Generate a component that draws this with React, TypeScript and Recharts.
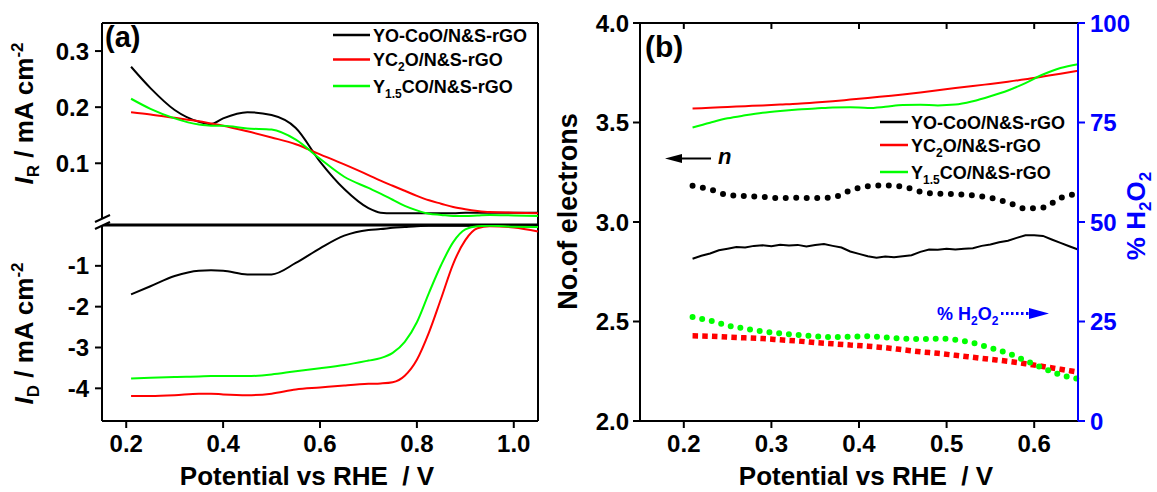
import { Line, LineChart, ReferenceLine, XAxis, YAxis } from "recharts";

// panel (a): ring / disk currents vs potential
const potentialA = [0.21, 0.25, 0.3, 0.35, 0.375, 0.4, 0.45, 0.5, 0.55, 0.6, 0.65, 0.7, 0.725, 0.75, 0.775, 0.8, 0.825, 0.85, 0.875, 0.9, 0.925, 0.95, 1.0, 1.05];
const irYOCoO = [0.272, 0.234, 0.195, 0.174, 0.17, 0.18, 0.191, 0.186, 0.163, 0.103, 0.054, 0.02, 0.012, 0.011, 0.011, 0.011, 0.011, 0.011, 0.011, 0.012, 0.012, 0.012, 0.012, 0.012];
const irYC2O = [0.191, 0.187, 0.181, 0.175, 0.171, 0.167, 0.157, 0.146, 0.134, 0.116, 0.098, 0.079, 0.069, 0.06, 0.051, 0.042, 0.034, 0.028, 0.022, 0.018, 0.015, 0.013, 0.012, 0.011];
const irY15CO = [0.215, 0.197, 0.18, 0.169, 0.167, 0.167, 0.162, 0.16, 0.142, 0.108, 0.076, 0.056, 0.046, 0.035, 0.024, 0.016, 0.01, 0.008, 0.006, 0.006, 0.007, 0.008, 0.007, 0.006];
const idYOCoO = [-1.7, -1.5, -1.25, -1.12, -1.11, -1.12, -1.21, -1.21, -0.93, -0.57, -0.26, -0.12, -0.1, -0.07, -0.05, -0.03, -0.02, -0.02, -0.02, -0.02, -0.02, -0.02, -0.03, -0.04];
const idYC2O = [-4.19, -4.19, -4.17, -4.13, -4.13, -4.15, -4.17, -4.13, -4.03, -3.98, -3.93, -3.89, -3.88, -3.85, -3.69, -3.3, -2.63, -1.8, -0.95, -0.37, -0.08, -0.03, -0.06, -0.16];
const idY15CO = [-3.76, -3.74, -3.72, -3.71, -3.7, -3.7, -3.7, -3.66, -3.58, -3.51, -3.43, -3.32, -3.26, -3.13, -2.86, -2.38, -1.66, -0.98, -0.42, -0.11, -0.03, -0.02, -0.04, -0.05];

// panel (b): electron number (left) and % H2O2 (right)
const potentialB = [0.21, 0.23, 0.25, 0.27, 0.29, 0.31, 0.33, 0.35, 0.37, 0.39, 0.41, 0.43, 0.45, 0.47, 0.49, 0.51, 0.53, 0.55, 0.57, 0.59, 0.61, 0.63, 0.65];
const nYC2O = [3.57, 3.574, 3.578, 3.582, 3.586, 3.59, 3.594, 3.6, 3.607, 3.615, 3.623, 3.632, 3.641, 3.651, 3.662, 3.673, 3.683, 3.694, 3.705, 3.717, 3.731, 3.745, 3.76];
const nY15CO = [3.475, 3.499, 3.521, 3.536, 3.549, 3.558, 3.565, 3.57, 3.576, 3.577, 3.573, 3.579, 3.588, 3.589, 3.586, 3.59, 3.607, 3.632, 3.661, 3.698, 3.741, 3.774, 3.793];
const h2o2YOCoO = [59.1, 58.2, 56.8, 56.5, 56.3, 56.0, 56.1, 56.0, 56.2, 57.9, 59.0, 59.2, 58.9, 57.6, 57.1, 57.0, 56.7, 56.1, 54.9, 53.4, 53.6, 56.0, 57.1];
const h2o2YC2O = [21.4, 21.3, 21.1, 20.9, 20.7, 20.4, 20.1, 19.7, 19.4, 19.1, 18.8, 18.4, 17.9, 17.4, 17.0, 16.5, 16.0, 15.5, 15.0, 14.4, 13.7, 13.0, 12.3];
const h2o2Y15CO = [26.1, 25.2, 24.0, 23.2, 22.5, 22.0, 21.6, 21.3, 21.1, 21.2, 21.3, 21.0, 20.7, 20.6, 20.7, 20.4, 19.6, 18.4, 17.0, 15.2, 13.3, 11.6, 10.6];

// the black n trace is noisy, so it is read at a finer step
const potentialBFine = [0.21, 0.22, 0.23, 0.24, 0.25, 0.26, 0.27, 0.28, 0.29, 0.3, 0.31, 0.32, 0.33, 0.34, 0.35, 0.36, 0.37, 0.38, 0.39, 0.4, 0.41, 0.42, 0.43, 0.44, 0.45, 0.46, 0.47, 0.48, 0.49, 0.5, 0.51, 0.52, 0.53, 0.54, 0.55, 0.56, 0.57, 0.58, 0.59, 0.6, 0.61, 0.62, 0.63, 0.64, 0.65];
const nYOCoO = [2.815, 2.83, 2.842, 2.858, 2.866, 2.874, 2.872, 2.88, 2.883, 2.878, 2.886, 2.882, 2.885, 2.877, 2.884, 2.889, 2.88, 2.872, 2.852, 2.84, 2.828, 2.82, 2.826, 2.823, 2.828, 2.833, 2.85, 2.862, 2.86, 2.866, 2.862, 2.866, 2.868, 2.88, 2.887, 2.898, 2.906, 2.92, 2.933, 2.934, 2.93, 2.912, 2.895, 2.878, 2.862];

const ticksIR = [0.1, 0.2, 0.3];
const ticksID = [-4, -3, -2, -1];
const ticksVA = [0.2, 0.4, 0.6, 0.8, 1.0];
const ticksVB = [0.2, 0.3, 0.4, 0.5, 0.6];
const ticksN = [2, 2.5, 3, 3.5, 4];
const ticksPct = [0, 25, 50, 75, 100];

const BLACK = "#000000";
const RED = "#ff0000";
const GREEN = "#00ff00";
const BLUE = "#0000ff";

const rowsA = potentialA.map((v, i) => ({
	v,
	irBlack: irYOCoO[i],
	irRed: irYC2O[i],
	irGreen: irY15CO[i],
	idBlack: idYOCoO[i],
	idRed: idYC2O[i],
	idGreen: idY15CO[i],
}));

const rowsB = potentialB.map((v, i) => ({
	v,
	nRed: nYC2O[i],
	nGreen: nY15CO[i],
	pBlack: h2o2YOCoO[i],
	pRed: h2o2YC2O[i],
	pGreen: h2o2Y15CO[i],
}));

const rowsBFine = potentialBFine.map((v, i) => ({ v, nBlack: nYOCoO[i] }));

const axisLine = { stroke: BLACK, strokeWidth: 2 };
const tickStyle = { fill: BLACK, fontSize: 24, fontWeight: 700 };
const one = (v: number) => v.toFixed(1);

function LegendRow(props: {
	x1: number;
	x2: number;
	y: number;
	color: string;
	children: React.ReactNode;
}) {
	const { x1, x2, y, color, children } = props;
	return (
		<g>
			<line x1={x1} x2={x2} y1={y} y2={y} stroke={color} strokeWidth={2.5} />
			<text x={x2 + 3} y={y + 6.5} fontSize={18} fontWeight={700}>
				{children}
			</text>
		</g>
	);
}

function legendEntries(x1: number, x2: number, ys: number[]) {
	return (
		<g>
			<LegendRow x1={x1} x2={x2} y={ys[0]} color={BLACK}>
				{"YO-CoO/N&S-rGO"}
			</LegendRow>
			<LegendRow x1={x1} x2={x2} y={ys[1]} color={RED}>
				<tspan>YC</tspan>
				<tspan fontSize={12} dy={5}>2</tspan>
				<tspan dy={-5}>{"O/N&S-rGO"}</tspan>
			</LegendRow>
			<LegendRow x1={x1} x2={x2} y={ys[2]} color={GREEN}>
				<tspan>Y</tspan>
				<tspan fontSize={12} dy={5}>1.5</tspan>
				<tspan dy={-5}>{"CO/N&S-rGO"}</tspan>
			</LegendRow>
		</g>
	);
}

function Overlay() {
	return (
		<svg
			width={1157}
			height={492}
			style={{ position: "absolute", left: 0, top: 0, pointerEvents: "none" }}
		>
			{/* axis break on the left of panel (a) */}
			<polygon points="95,222 110,215 110,222 95,229" fill="#fff" />
			<line x1={95} y1={222} x2={110} y2={215} stroke={BLACK} strokeWidth={2} />
			<line x1={95} y1={229} x2={110} y2={222} stroke={BLACK} strokeWidth={2} />

			<text x={105} y={47} fontSize={29} fontWeight={700}>(a)</text>
			<text x={645} y={57} fontSize={30} fontWeight={700}>(b)</text>

			{legendEntries(333, 370, [35, 59.5, 86])}
			{legendEntries(880, 908, [122, 145, 172])}

			{/* y titles of (a) */}
			<text transform="translate(33,113.5) rotate(-90)" textAnchor="middle" fontSize={26} fontWeight={700}>
				<tspan fontStyle="italic">I</tspan>
				<tspan fontSize={17} dy={6}>R</tspan>
				<tspan dy={-6}> / mA cm</tspan>
				<tspan fontSize={17} dy={-10}>-2</tspan>
			</text>
			<text transform="translate(33,333.5) rotate(-90)" textAnchor="middle" fontSize={26} fontWeight={700}>
				<tspan fontStyle="italic">I</tspan>
				<tspan fontSize={17} dy={6}>D</tspan>
				<tspan dy={-6}> / mA cm</tspan>
				<tspan fontSize={17} dy={-10}>-2</tspan>
			</text>

			{/* y titles of (b) */}
			<text transform="translate(577,211.5) rotate(-90)" textAnchor="middle" fontSize={27} fontWeight={700}>
				No.of electrons
			</text>
			<text transform="translate(1145,216) rotate(-90)" textAnchor="middle" fontSize={26} fontWeight={700} fill={BLUE}>
				<tspan>% H</tspan>
				<tspan fontSize={17} dy={6}>2</tspan>
				<tspan dy={-6}>O</tspan>
				<tspan fontSize={17} dy={6}>2</tspan>
			</text>

			{/* x titles */}
			<text x={307} y={485} textAnchor="middle" fontSize={26} fontWeight={700}>
				{"Potential vs RHE\u00a0 / V"}
			</text>
			<text x={866} y={485} textAnchor="middle" fontSize={26} fontWeight={700}>
				{"Potential vs RHE\u00a0 / V"}
			</text>

			{/* n arrow */}
			<line x1={680} y1={158.5} x2={711} y2={158.5} stroke={BLACK} strokeWidth={2} />
			<polygon points="665,158.5 682,154 682,163" fill={BLACK} />
			<text x={718} y={164} fontSize={22} fontWeight={700} fontStyle="italic">n</text>

			{/* % H2O2 arrow */}
			<text x={937} y={319.5} fontSize={18} fontWeight={700} fill={BLUE}>
				<tspan>% H</tspan>
				<tspan fontSize={12} dy={5}>2</tspan>
				<tspan dy={-5}>O</tspan>
				<tspan fontSize={12} dy={5}>2</tspan>
			</text>
			<line x1={1001} y1={313.5} x2={1029} y2={313.5} stroke={BLUE} strokeWidth={3} strokeDasharray="2.5 2.5" />
			<polygon points="1029,308 1049,313.5 1029,319" fill={BLUE} />
		</svg>
	);
}

function PanelATop() {
	return (
		<div style={{ position: "absolute", left: 0, top: 0 }}>
			<LineChart width={560} height={225} data={rowsA} margin={{ top: 23, right: 22, bottom: 0, left: 0 }}>
				<XAxis type="number" dataKey="v" domain={[0.15, 1.05]} hide />
				<YAxis
					type="number"
					domain={[-0.01, 0.35]}
					ticks={ticksIR}
					interval={0}
					width={102}
					tickSize={7}
					tickMargin={6}
					tickFormatter={one}
					tick={tickStyle}
					axisLine={axisLine}
					tickLine={axisLine}
					allowDataOverflow
				/>
				<ReferenceLine y={0.35} stroke={BLACK} strokeWidth={2} />
				<ReferenceLine x={1.05} stroke={BLACK} strokeWidth={2} />
				<Line dataKey="irBlack" type="monotone" stroke={BLACK} strokeWidth={2} dot={false} isAnimationActive={false} />
				<Line dataKey="irRed" type="monotone" stroke={RED} strokeWidth={2} dot={false} isAnimationActive={false} />
				<Line dataKey="irGreen" type="monotone" stroke={GREEN} strokeWidth={2} dot={false} isAnimationActive={false} />
			</LineChart>
		</div>
	);
}

function PanelABottom() {
	return (
		<div style={{ position: "absolute", left: 0, top: 200 }}>
			<LineChart width={560} height={292} data={rowsA} margin={{ top: 25, right: 22, bottom: 0, left: 0 }}>
				<XAxis
					type="number"
					dataKey="v"
					domain={[0.15, 1.05]}
					ticks={ticksVA}
					interval={0}
					height={71}
					tickSize={7}
					tickMargin={7}
					tickFormatter={one}
					tick={tickStyle}
					axisLine={axisLine}
					tickLine={axisLine}
				/>
				<YAxis
					type="number"
					domain={[-4.8, 0]}
					ticks={ticksID}
					interval={0}
					width={102}
					tickSize={7}
					tickMargin={6}
					tick={tickStyle}
					axisLine={axisLine}
					tickLine={axisLine}
					allowDataOverflow
				/>
				<ReferenceLine y={0} stroke={BLACK} strokeWidth={3} />
				<ReferenceLine x={1.05} stroke={BLACK} strokeWidth={2} />
				<Line dataKey="idBlack" type="monotone" stroke={BLACK} strokeWidth={2} dot={false} isAnimationActive={false} />
				<Line dataKey="idRed" type="monotone" stroke={RED} strokeWidth={2} dot={false} isAnimationActive={false} />
				<Line dataKey="idGreen" type="monotone" stroke={GREEN} strokeWidth={2} dot={false} isAnimationActive={false} />
			</LineChart>
		</div>
	);
}

function PanelB() {
	return (
		<div style={{ position: "absolute", left: 560, top: 0 }}>
			<LineChart width={597} height={492} data={rowsB} margin={{ top: 23, right: 0, bottom: 0, left: 0 }}>
				<XAxis
					xAxisId="x"
					type="number"
					dataKey="v"
					domain={[0.15, 0.65]}
					ticks={ticksVB}
					interval={0}
					height={71}
					tickSize={7}
					tickMargin={7}
					tickFormatter={one}
					tick={tickStyle}
					axisLine={axisLine}
					tickLine={axisLine}
					allowDuplicatedCategory={false}
				/>
				<YAxis
					yAxisId="n"
					type="number"
					domain={[2, 4]}
					ticks={ticksN}
					interval={0}
					width={80}
					tickSize={7}
					tickMargin={4}
					tickFormatter={one}
					tick={tickStyle}
					axisLine={axisLine}
					tickLine={axisLine}
				/>
				<YAxis
					yAxisId="pct"
					orientation="right"
					type="number"
					domain={[0, 100]}
					ticks={ticksPct}
					interval={0}
					width={79}
					tickSize={7}
					tickMargin={5}
					tick={{ ...tickStyle, fill: BLUE }}
					axisLine={{ stroke: BLUE, strokeWidth: 2 }}
					tickLine={{ stroke: BLUE, strokeWidth: 2 }}
				/>
				{/* top frame with inward ticks */}
				<ReferenceLine xAxisId="x" yAxisId="n" y={4} stroke={BLACK} strokeWidth={2} />
				{ticksVB.map((t) => (
					<ReferenceLine
						key={t}
						xAxisId="x"
						yAxisId="n"
						segment={[
							{ x: t, y: 4 },
							{ x: t, y: 3.97 },
						]}
						stroke={BLACK}
						strokeWidth={2}
					/>
				))}
				<Line xAxisId="x" yAxisId="n" dataKey="nRed" type="monotone" stroke={RED} strokeWidth={2} dot={false} isAnimationActive={false} />
				<Line xAxisId="x" yAxisId="n" dataKey="nGreen" type="monotone" stroke={GREEN} strokeWidth={2} dot={false} isAnimationActive={false} />
				<Line xAxisId="x" yAxisId="n" data={rowsBFine} dataKey="nBlack" type="linear" stroke={BLACK} strokeWidth={2} dot={false} isAnimationActive={false} />
				<Line
					xAxisId="x"
					yAxisId="pct"
					dataKey="pBlack"
					type="monotone"
					stroke={BLACK}
					strokeWidth={6}
					strokeDasharray="0 10.5"
					strokeLinecap="round"
					dot={false}
					isAnimationActive={false}
				/>
				<Line
					xAxisId="x"
					yAxisId="pct"
					dataKey="pRed"
					type="monotone"
					stroke={RED}
					strokeWidth={5.5}
					strokeDasharray="5.5 4.2"
					dot={false}
					isAnimationActive={false}
				/>
				<Line
					xAxisId="x"
					yAxisId="pct"
					dataKey="pGreen"
					type="monotone"
					stroke={GREEN}
					strokeWidth={6}
					strokeDasharray="0 9.8"
					strokeLinecap="round"
					dot={false}
					isAnimationActive={false}
				/>
			</LineChart>
		</div>
	);
}

export default function App() {
	return (
		<div
			style={{
				position: "absolute",
				left: 0,
				top: 0,
				width: 1157,
				height: 492,
				background: "#fff",
				fontFamily: '"Liberation Sans", Arial, sans-serif',
			}}
		>
			<PanelATop />
			<PanelABottom />
			<PanelB />
			<Overlay />
		</div>
	);
}
